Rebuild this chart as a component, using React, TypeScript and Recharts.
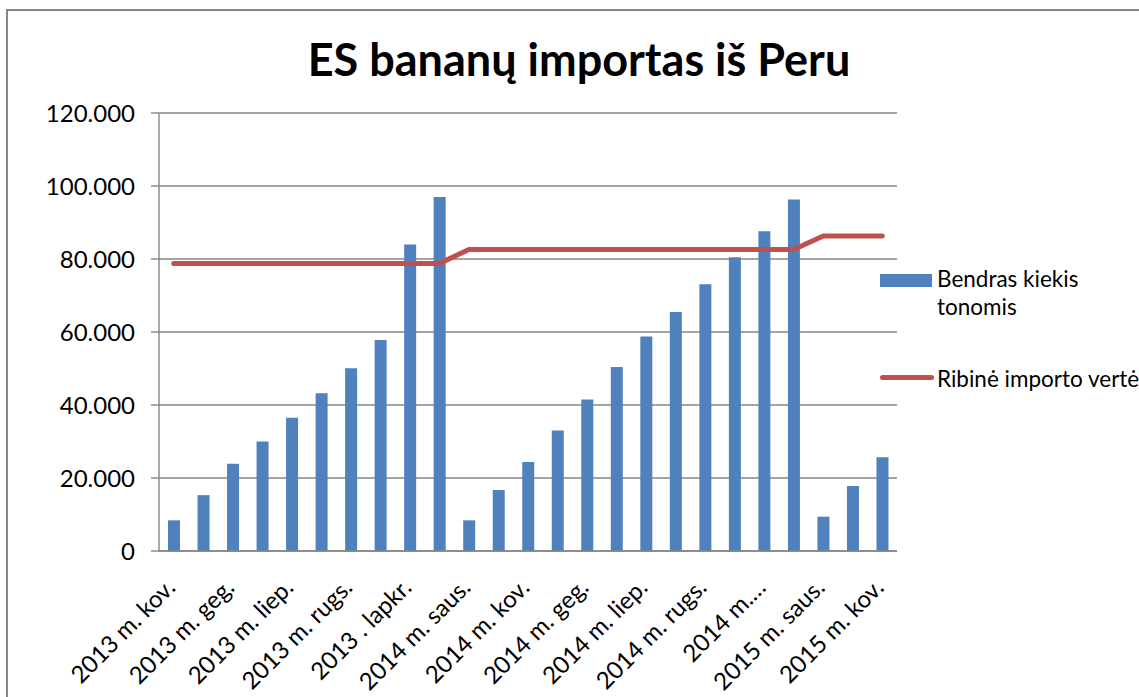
import React from "react";
import {
  ComposedChart,
  Bar,
  Line,
  XAxis,
  YAxis,
  CartesianGrid,
} from "recharts";

// months Mar 2013 - Mar 2015, labels as printed on the axis
const months = [
  "2013 m. kov.", "2013 m. bal.", "2013 m. geg.", "2013 m. birž.", "2013 m. liep.",
  "2013 m. rugpj.", "2013 m. rugs.", "2013 m. spal.", "2013 . lapkr.", "2013 m. gruod.",
  "2014 m. saus.", "2014 m. vas.", "2014 m. kov.", "2014 m. bal.", "2014 m. geg.",
  "2014 m. birž.", "2014 m. liep.", "2014 m. rugpj.", "2014 m. rugs.", "2014 m. spal.",
  "2014 m.…", "2014 m. gruod.", "2015 m. saus.", "2015 m. vas.", "2015 m. kov.",
];

const totalTonnes = [
  8400, 15300, 23900, 30000, 36500, 43200, 50100, 57800, 84000, 97000,
  8400, 16700, 24400, 33000, 41500, 50400, 58800, 65500, 73100, 80500,
  87600, 96300, 9400, 17800, 25700,
];

const threshold = [
  78800, 78800, 78800, 78800, 78800, 78800, 78800, 78800, 78800, 78800,
  82600, 82600, 82600, 82600, 82600, 82600, 82600, 82600, 82600, 82600,
  82600, 82600, 86300, 86300, 86300,
];

const yTicks = [0, 20000, 40000, 60000, 80000, 100000, 120000];

const FONT = "Lato, 'Open Sans', sans-serif";

const chartData = months.map((m, i) => ({
  month: m,
  kiekis: totalTonnes[i],
  riba:   threshold[i],
}));

// 120000 -> "120.000"
const fmtThousands = (v: number) =>
  v === 0 ? "0" : `${Math.floor(v / 1000)}.${String(v % 1000).padStart(3, "0")}`;

const MonthTick = (props: any) => {
  const { x, y, payload } = props;
  const tx = x + 3;
  const ty = y + 38;
  return (
    <text
      x={tx}
      y={ty}
      transform={`rotate(-45, ${tx}, ${ty})`}
      textAnchor="end"
      fontSize={24}
      fontFamily={FONT}
      fill="#000"
    >
      {payload.value}
    </text>
  );
};

const LegendBox = () => (
  <div
    style={{
      position: "absolute",
      left: 880,
      top: 265,
      fontFamily: FONT,
      fontSize: 22.5,
      color: "#000",
      lineHeight: "28px",
    }}
  >
    <div style={{ display: "flex", alignItems: "flex-start" }}>
      <div style={{ width: 52, height: 13, background: "#4f81bd", marginTop: 9, marginRight: 5 }} />
      <div>
        Bendras kiekis
        <br />
        tonomis
      </div>
    </div>
    <div style={{ display: "flex", alignItems: "flex-start", marginTop: 44, whiteSpace: "nowrap" }}>
      <div style={{ width: 54, height: 5, borderRadius: 3, background: "#c0504d", marginTop: 10, marginRight: 3 }} />
      <div>Ribinė importo vertė</div>
    </div>
  </div>
);

export default function App() {
  return (
    <div
      style={{
        position: "absolute",
        left: 0,
        top: 0,
        width: 1139,
        height: 697,
        overflow: "hidden",
        background: "#fff",
      }}
    >
      <div
        style={{
          position: "absolute",
          left: 6,
          top: 9,
          width: 1200,
          height: 800,
          borderLeft: "2px solid #868686",
          borderTop: "2px solid #868686",
        }}
      />
      <div
        style={{
          position: "absolute",
          left: 0,
          top: 32,
          width: 1158,
          textAlign: "center",
          fontFamily: FONT,
          fontWeight: 700,
          fontSize: 45,
          color: "#000",
        }}
      >
        ES bananų importas iš Peru
      </div>
      <div style={{ position: "absolute", left: 0, top: 0 }}>
        <ComposedChart
          width={1139}
          height={697}
          data={chartData}
          margin={{ top: 113, right: 242, bottom: 0, left: 0 }}
          barSize={12}
        >
          <CartesianGrid vertical={false} stroke="#868686" strokeWidth={1.4} />
          <XAxis
            dataKey="month"
            height={146}
            interval={1}
            tickLine={false}
            tickSize={0}
            tickMargin={0}
            axisLine={{ stroke: "#868686", strokeWidth: 1.4 }}
            tick={<MonthTick />}
          />
          <YAxis
            width={159}
            domain={[0, 120000]}
            ticks={yTicks}
            tickFormatter={fmtThousands}
            tickSize={8}
            tickMargin={16}
            tickLine={{ stroke: "#868686", strokeWidth: 1.4 }}
            axisLine={{ stroke: "#868686", strokeWidth: 1.4 }}
            tick={{ fontSize: 24, fill: "#000", fontFamily: FONT }}
          />
          <Bar dataKey="kiekis" fill="#4f81bd" isAnimationActive={false} />
          <Line
            type="linear"
            dataKey="riba"
            stroke="#c0504d"
            strokeWidth={5}
            strokeLinecap="round"
            dot={false}
            activeDot={false}
            isAnimationActive={false}
          />
        </ComposedChart>
      </div>
      <LegendBox />
    </div>
  );
}
